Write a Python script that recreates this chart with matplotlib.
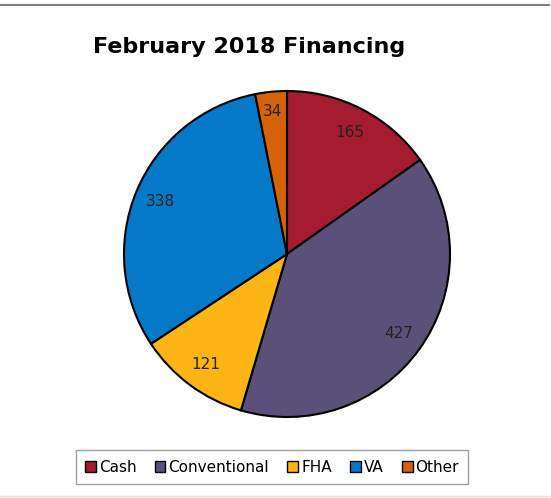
import matplotlib.pyplot as plt
from matplotlib.lines import Line2D
from matplotlib.patches import Patch
import numpy as np

# Data
labels = ['Cash', 'Conventional', 'FHA', 'VA', 'Other']
values = [165, 427, 121, 338, 34]
colors = ['#A51C30', '#5A517A', '#FDB515', '#0479C7', '#D5620B']

W, H = 551, 498
fig = plt.figure(figsize=(W / 100, H / 100), dpi=100)

# pie axes: centre ~ (287, 254), radius ~163 px
cx, cy, r = 287, 254, 163
ax = fig.add_axes([(cx - r) / W, (H - cy - r) / H, 2 * r / W, 2 * r / H])
wedges, texts = ax.pie(values, colors=colors, startangle=90, counterclock=False,
                       wedgeprops=dict(edgecolor='black', linewidth=1.5))
ax.set_xlim(-1, 1)
ax.set_ylim(-1, 1)
ax.set_aspect('equal')

# value labels inside slices
total = sum(values)
start = 90.0
for v in values:
    sweep = v / total * 360
    mid = np.deg2rad(start - sweep / 2)
    d = 0.84 if v > 40 else 0.88
    ax.text(d * np.cos(mid), d * np.sin(mid), str(v), ha='center', va='center',
            fontsize=11, color='#222222')
    start -= sweep

fig.text(249 / W, 1 - 47 / H, 'February 2018 Financing', ha='center', va='center',
         fontsize=16, fontweight='bold')

handles = [Patch(facecolor=c, edgecolor='black', linewidth=1) for c in colors]
leg = fig.legend(handles, labels, loc='center', bbox_to_anchor=(272 / W, 1 - 467 / H),
                 ncol=5, fontsize=11, frameon=True, fancybox=False, edgecolor='#888888',
                 handlelength=0.7, handleheight=0.7, handletextpad=0.2, columnspacing=1.2,
                 borderpad=0.6)
leg.get_frame().set_linewidth(1)

# border lines at top and bottom
fig.add_artist(Line2D([0, 549 / W], [1 - 5 / H, 1 - 5 / H], color='#808080', linewidth=1.5))
fig.add_artist(Line2D([0, 549 / W], [1 - 496 / H, 1 - 496 / H], color='#dddddd', linewidth=1))

fig.savefig('out.png', dpi=100)
